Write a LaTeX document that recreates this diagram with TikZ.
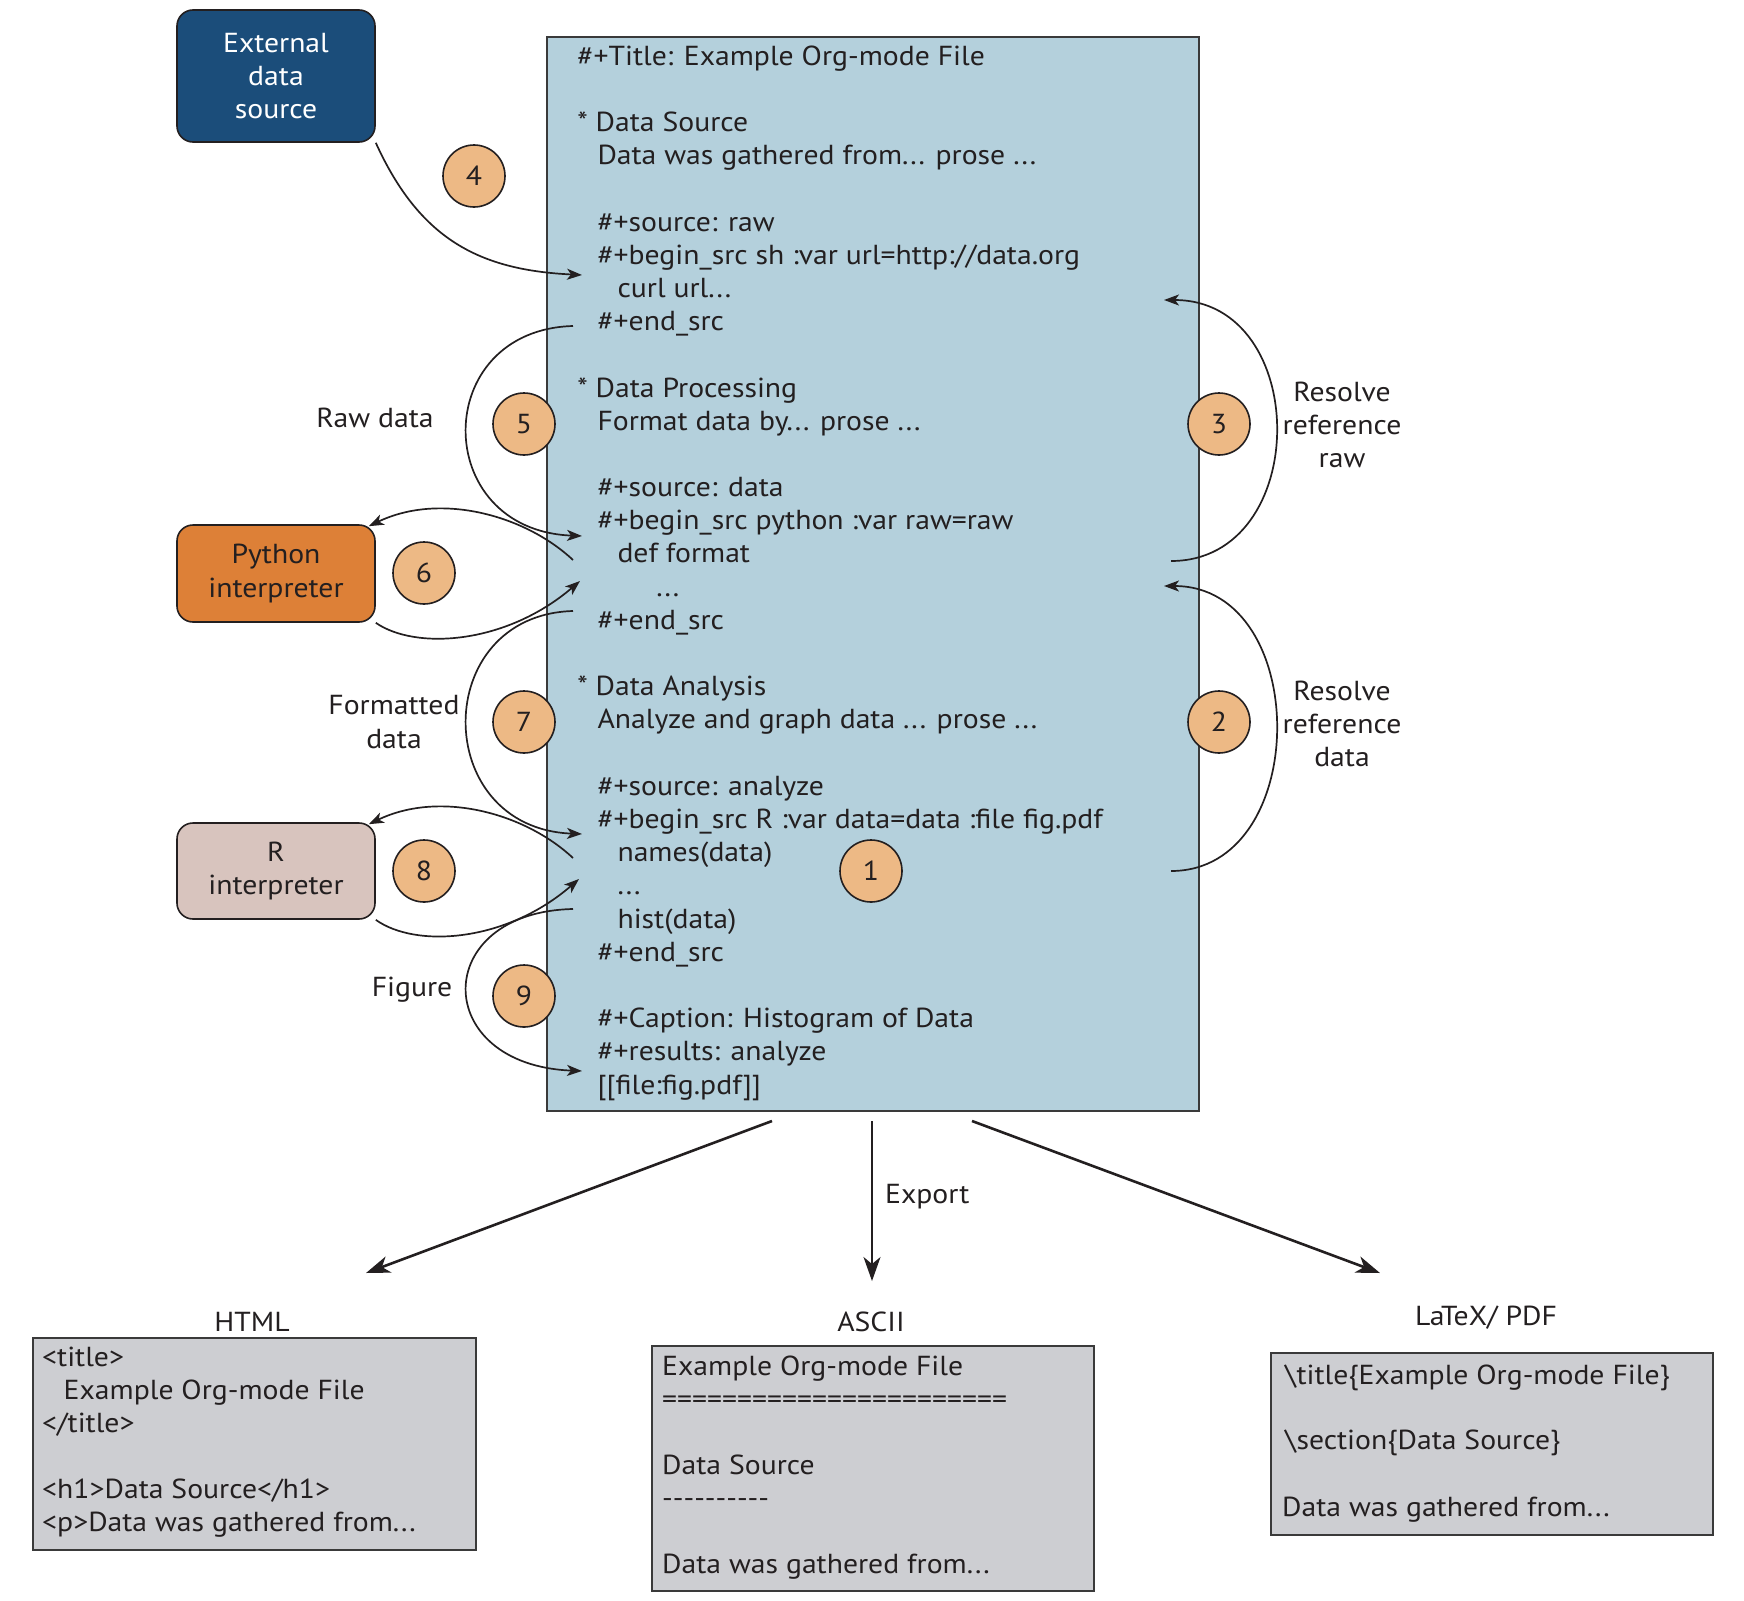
\documentclass[tikz,border=0pt]{standalone}
\usepackage{fontspec}
\setmainfont{PT Sans}[FakeStretch=1.08]
\usetikzlibrary{arrows.meta}

\definecolor{ink}{HTML}{231F20}
\definecolor{orgblue}{HTML}{B4D0DC}
\definecolor{extblue}{HTML}{1B4D7A}
\definecolor{pyorange}{HTML}{DD8037}
\definecolor{rbeige}{HTML}{D8C4BE}
\definecolor{peach}{HTML}{EDB985}
\definecolor{outgray}{HTML}{CDCED2}
\definecolor{edge}{HTML}{3A3A3A}

\newcommand\txtfont{\fontsize{27.5}{33.4}\selectfont}
% one line of the Org file: name, x, line number, text
\newcommand\orgline[4]{\node[orgtext] (#1) at (#2,{65.1+33.19*#3}) {#4};}

\tikzset{
  txt/.style={font=\txtfont, text=ink, inner sep=0pt},
  orgtext/.style={txt, anchor=base west},
  multi/.style={txt, align=center},
  numball/.style={circle, draw=ink, fill=peach, line width=1.6pt,
    minimum size=62pt, inner sep=0pt, font=\txtfont, text=ink},
  srcbox/.style={draw=ink, line width=1.6pt, rounded corners=16pt,
    minimum width=198pt, align=center, font=\txtfont, inner sep=0pt},
  outbox/.style={draw=edge, fill=outgray, line width=2pt, anchor=north west, inner sep=0pt},
  link/.style={draw=ink, line width=1.7pt, -{Stealth[length=15pt,width=11pt,inset=4pt]}},
  export/.style={draw=ink, line width=2.6pt, -{Stealth[length=24pt,width=17pt,inset=7pt]}},
}

\begin{document}
\begin{tikzpicture}[x=1pt,y=-1pt]
\useasboundingbox (0,0) rectangle (1744,1600);

% the Org-mode file
\node[draw=edge, fill=orgblue, line width=2.2pt, anchor=north west,
      minimum width=652pt, minimum height=1074pt, inner sep=0pt] (org) at (546,36) {};

\orgline{l0}{577.2}{0}{\#+Title: Example Org-mode File}
\orgline{l2}{577.2}{2}{* Data Source}
\orgline{l3}{597.3}{3}{Data was gathered from... prose ...}
\orgline{l5}{597.3}{5}{\#+source: raw}
\orgline{l6}{597.3}{6}{\#+begin\_src sh :var url=http://data.org}
\orgline{l7}{617.3}{7}{curl url...}
\orgline{l8}{597.3}{8}{\#+end\_src}
\orgline{l10}{577.2}{10}{* Data Processing}
\orgline{l11}{597.3}{11}{Format data by... prose ...}
\orgline{l13}{597.3}{13}{\#+source: data}
\orgline{l14}{597.3}{14}{\#+begin\_src python :var raw=raw}
\orgline{l15}{617.3}{15}{def format}
\orgline{l16}{656.2}{16}{...}
\orgline{l17}{597.3}{17}{\#+end\_src}
\orgline{l19}{577.2}{19}{* Data Analysis}
\orgline{l20}{597.3}{20}{Analyze and graph data ... prose ...}
\orgline{l22}{597.3}{22}{\#+source: analyze}
\orgline{l23}{597.3}{23}{\#+begin\_src R :var data=data :file fig.pdf}
\orgline{l24}{617.3}{24}{names(data)}
\orgline{l25}{617.3}{25}{...}
\orgline{l26}{617.3}{26}{hist(data)}
\orgline{l27}{597.3}{27}{\#+end\_src}
\orgline{l29}{597.3}{29}{\#+Caption: Histogram of Data}
\orgline{l30}{597.3}{30}{\#+results: analyze}
\orgline{l31}{597.3}{31}{[[file:fig.pdf]]}

% sources and interpreters
\node[srcbox, fill=extblue, text=white, minimum height=132pt] (ext) at (276,76)
  {External\\data\\source};
\node[srcbox, fill=pyorange, text=ink, minimum height=97pt] (py) at (276,573.5)
  {Python\\interpreter};
\node[srcbox, fill=rbeige, text=ink, minimum height=96pt] (rint) at (276,871)
  {R\\interpreter};

% side labels
\node[multi] (lraw) at (375,418) {Raw data};
\node[multi] (lfmt) at (394,722) {Formatted\\data};
\node[multi] (lfig) at (412,990) {Figure};
\node[multi] (lres3) at (1342,425) {Resolve\\reference\\raw};
\node[multi] (lres2) at (1342,724) {Resolve\\reference\\data};

% connector end points inside the file
\coordinate (a4) at (582,275);
\coordinate (s5) at (573,326);   \coordinate (a5) at (582,536);
\coordinate (s6) at (573,560);   \coordinate (a6) at (580,581);
\coordinate (s7) at (573,611);   \coordinate (a7) at (582,834);
\coordinate (s8) at (573,858);   \coordinate (a8) at (579,879);
\coordinate (s9) at (573,909);   \coordinate (a9) at (582,1071);
\coordinate (s3) at (1171,561);  \coordinate (a3) at (1164,300);
\coordinate (s2) at (1171,871);  \coordinate (a2) at (1164,586);

% evaluation flow
\draw[link] (ext.south east) .. controls (420,240) and (480,270) .. (a4);
\draw[link] (s5) .. controls (430,330) and (430,530) .. (a5);
\draw[link] (s6) .. controls (525,515) and (440,492) .. ([shift={(-7,2)}]py.north east);
\draw[link] (py.south east) .. controls (415,650) and (505,645) .. (a6);
\draw[link] (s7) .. controls (430,615) and (430,828) .. (a7);
\draw[link] (s8) .. controls (525,813) and (440,790) .. ([shift={(-7,2)}]rint.north east);
\draw[link] (rint.south east) .. controls (415,948) and (505,943) .. (a8);
\draw[link] (s9) .. controls (430,912) and (430,1065) .. (a9);
\draw[link] (s3) .. controls (1312,561) and (1312,300) .. (a3);
\draw[link] (s2) .. controls (1312,871) and (1312,586) .. (a2);

% step numbers
\node[numball] (n1) at (871,871) {1};
\node[numball] (n2) at (1219,722) {2};
\node[numball] (n3) at (1219,424) {3};
\node[numball] (n4) at (474,176) {4};
\node[numball] (n5) at (524,424) {5};
\node[numball] (n6) at (424,573) {6};
\node[numball] (n7) at (524,722) {7};
\node[numball] (n8) at (424,871) {8};
\node[numball] (n9) at (524,996) {9};

% export targets
\coordinate (e1) at (772,1121);  \coordinate (t1) at (366,1273);
\coordinate (e2) at (872,1121);  \coordinate (t2) at (872,1281);
\coordinate (e3) at (972,1121);  \coordinate (t3) at (1380,1273);
\draw[export] (e1) -- (t1);
\draw[export, line width=1.8pt] (e2) -- (t2);
\draw[export] (e3) -- (t3);
\node[txt, anchor=west] (lexp) at (885,1197) {Export};

\node[txt] (lhtml) at (252,1322) {HTML};
\node[txt] (lascii) at (871,1322) {ASCII};
\node[txt] (llatex) at (1486,1318) {LaTeX/ PDF};

\node[outbox, minimum width=443pt, minimum height=212pt] (html) at (32,1337) {};
\node[orgtext] (h1) at (42,1366.5) {<title>};
\node[orgtext] (h2) at (63.5,1399.5) {Example Org-mode File};
\node[orgtext] (h3) at (42,1432.5) {</title>};
\node[orgtext] (h4) at (42,1498.5) {<h1>Data Source</h1>};
\node[orgtext] (h5) at (42,1531.5) {<p>Data was gathered from...};

\node[outbox, minimum width=442pt, minimum height=245pt] (ascii) at (651,1345) {};
\node[orgtext] (s1a) at (662,1375.5) {Example Org-mode File};
\node[orgtext] (s2a) at (662,1408.5) {=======================};
\node[orgtext] (s3a) at (662,1474.5) {Data Source};
\node[orgtext] (s4a) at (662,1507.5) {-{}-{}-{}-{}-{}-{}-{}-{}-{}-};
\node[orgtext] (s5a) at (662,1573.5) {Data was gathered from...};

\node[outbox, minimum width=442pt, minimum height=182pt] (latex) at (1270,1352) {};
\node[orgtext] (x1) at (1285,1384.5) {\textbackslash title\{Example Org-mode File\}};
\node[orgtext] (x2) at (1285,1449.5) {\textbackslash section\{Data Source\}};
\node[orgtext] (x3) at (1282,1516.5) {Data was gathered from...};
\end{tikzpicture}
\end{document}
